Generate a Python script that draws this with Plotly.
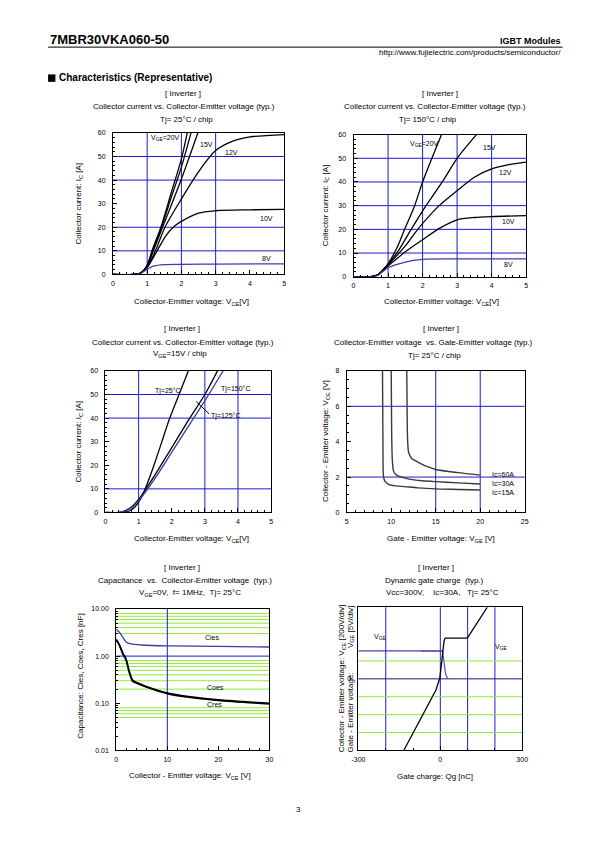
import math
import plotly.graph_objects as go

W, H = 595, 842
FONT = "Liberation Sans, Arial, sans-serif"
BLUE = "#1c1cd2"
NAVY = "#16168c"
GREEN = "#8fe83c"
CBLUE = "#3c3ca8"

# ---------------- data ----------------
p1_v20 = [0, 0.6, 0.8, 1.0, 1.14, 1.4, 1.7, 2.0, 2.17]
p1_i20 = [0, 0, 0.5, 4, 10, 20, 34.5, 49, 60]
p1_v17 = [0, 0.6, 0.8, 1.0, 1.16, 1.42, 1.7, 2.0, 2.28]
p1_i17 = [0, 0, 0.5, 3.8, 10, 20, 32.5, 45.5, 60]
p1_v15 = [0, 0.6, 0.8, 1.0, 1.18, 1.45, 1.75, 2.0, 2.25, 2.48]
p1_i15 = [0, 0, 0.5, 3.5, 10, 20, 31, 40.5, 50.5, 60]
p1_v12 = [0, 0.6, 0.8, 1.0, 1.24, 1.52, 2.0, 2.5, 3.0, 3.5, 4.0, 5.0]
p1_i12 = [0, 0, 0.5, 3, 10, 20, 32, 43.5, 52.5, 56.5, 58.3, 59.3]
p1_v10 = [0, 0.6, 0.8, 1.0, 1.29, 1.55, 1.8, 2.0, 2.5, 3.0, 4.0, 5.0]
p1_i10 = [0, 0, 0.5, 3, 10, 16.5, 20.5, 22.5, 26, 27, 27.4, 27.6]
p1_v8 = [0, 0.6, 0.8, 1.0, 1.2, 1.5, 2.0, 3.0, 5.0]
p1_i8 = [0, 0, 0.4, 2.2, 3.6, 4.2, 4.3, 4.4, 4.5]
p1_vgrid = [1, 2, 3]
p1_hgrid = [10, 20, 40, 50]

p2_v20 = [0, 0.5, 0.7, 1.0, 1.25, 1.48, 1.77, 2.0, 2.27, 2.55]
p2_i20 = [0, 0, 0.8, 5.5, 12, 20, 30, 40, 50, 60]
p2_v15 = [0, 0.5, 0.7, 1.0, 1.3, 1.67, 2.1, 2.57, 3.0, 3.56]
p2_i15 = [0, 0, 0.8, 5.2, 11, 20, 30, 40, 50, 60]
p2_v12 = [0, 0.5, 0.7, 1.0, 1.5, 1.86, 2.48, 3.0, 3.5, 4.0, 4.5, 5.0]
p2_i12 = [0, 0, 0.8, 5, 13, 20, 30, 36.3, 42, 45.5, 47.3, 48.4]
p2_v10 = [0, 0.5, 0.7, 1.0, 1.5, 2.0, 2.5, 3.0, 3.5, 4.0, 5.0]
p2_i10 = [0, 0, 0.8, 4.5, 10.5, 15.6, 20.5, 24, 25, 25.4, 25.8]
p2_v8 = [0, 0.5, 0.7, 1.0, 1.5, 2.0, 3.0, 5.0]
p2_i8 = [0, 0, 0.6, 3.8, 6.2, 7.3, 7.5, 7.5]
p2_vgrid = [1, 2, 3, 4]
p2_hgrid = [10, 20, 30, 40, 50]

p3_v25 = [0, 0.5, 0.7, 0.9, 1.05, 1.2, 1.45, 1.69, 1.94, 2.22, 2.5]
p3_i25 = [0, 0, 0.5, 2.5, 5.5, 10, 19.5, 29.5, 40, 50, 60]
p3_v125 = [0, 0.4, 0.6, 0.8, 1.0, 1.2, 1.5, 2.0, 2.5, 3.0, 3.38]
p3_i125 = [0, 0, 0.8, 2.5, 5.5, 9.5, 16, 27.5, 39, 50, 60]
p3_v150 = [0, 0.4, 0.6, 0.8, 1.0, 1.25, 1.5, 2.0, 2.5, 3.05, 3.55]
p3_i150 = [0, 0, 0.7, 2.2, 5, 9.5, 14.5, 25.5, 36.5, 48.5, 60]
p3_leader_v = [3.13, 2.74]
p3_leader_i = [41.8, 47.0]
p3_vgrid = [1, 3, 4]
p3_hgrid = [10, 40, 50]

p4_g15 = [9.02, 9.07, 9.12, 9.25, 9.7, 10.5, 11.5, 13, 15, 17.5, 20]
p4_c15 = [8, 4, 2.1, 1.8, 1.59, 1.5, 1.46, 1.39, 1.33, 1.3, 1.27]
p4_g30 = [10.0, 10.05, 10.12, 10.25, 10.5, 11, 12, 13.5, 15, 17.5, 20]
p4_c30 = [8, 4.5, 3.0, 2.35, 2.15, 2.02, 1.88, 1.79, 1.74, 1.67, 1.61]
p4_g60 = [11.75, 11.8, 11.85, 11.95, 12.3, 13, 14, 15, 17.5, 20]
p4_c60 = [8, 5, 4, 3.4, 3.05, 2.85, 2.6, 2.43, 2.25, 2.11]
p4_vgrid = [15, 20]
p4_hgrid = [2, 6]

p5_v_cies = [0, 0.6, 1.3, 1.9, 2.9, 5, 10, 20, 30]
p5_cies = [3.7, 3.2, 2.5, 2.0, 1.81, 1.72, 1.65, 1.6, 1.56]
p5_v_co = [0, 0.6, 1.3, 1.9, 2.5, 3.2, 4, 6, 10, 15, 20, 30]
p5_coes = [2.3, 1.75, 1.15, 0.88, 0.5, 0.31, 0.275, 0.225, 0.165, 0.135, 0.118, 0.1]
p5_cres = [2.2, 1.7, 1.1, 0.84, 0.47, 0.295, 0.265, 0.218, 0.16, 0.131, 0.115, 0.097]
p5_green = [0.05, 0.06, 0.07, 0.08, 0.2, 0.3, 0.4, 0.5, 0.6, 0.7, 0.8, 3, 4, 5, 6, 7, 8]
p5_blue_h = [1.0]
p5_vgrid = [10]

p6_q_vce = [-134, -16, -2, 7, 14, 18, 99, 172]
p6_vce = [-4, -0.62, 0.03, 1.23, 2.15, 2.28, 2.28, 4]
p6_q_vge = [-70, 8, 10, 14, 19, 25, 29]
p6_vge = [1.55, 1.55, 1.32, 0.77, 0.31, 0.06, 0.0]
p6_vge_level = 1.56
p6_vgrid = [-200, 0, 100, 200]
p6_green = [1, -1, -2, -3]
p6_navy = [0]

# ---------------- layout helpers ----------------
boxes = {
    1: (108.3, 283.3, 130.0, 272.7),
    2: (354.3, 530.7, 131.7, 275.0),
    3: (100.7, 270.0, 370.0, 512.7),
    4: (347.3, 529.3, 370.0, 512.7),
    5: (111.7, 268.3, 610.0, 752.7),
    6: (359.3, 526.7, 608.3, 752.7),
}


def px(x):
    return x / W


def py(y):
    return 1 - y / H


fig = go.Figure()
shapes = []
annotations = []


def line(i, x, y, color="black", width=1.3, shape="spline", smooth=0.8):
    ax = "" if i == 1 else str(i)
    ln = dict(color=color, width=width, shape=shape)
    if shape == "spline":
        ln["smoothing"] = smooth
    fig.add_trace(go.Scatter(x=x, y=y, mode="lines", line=ln, xaxis="x" + ax,
                             yaxis="y" + ax, showlegend=False, hoverinfo="skip"))


def grid(i, vlist, hlist, color=BLUE, hcolor=None):
    ax = "" if i == 1 else str(i)
    for v in vlist:
        shapes.append(dict(type="line", xref="x" + ax, yref="y" + ax + " domain",
                           x0=v, x1=v, y0=0, y1=1, layer="below",
                           line=dict(color=color, width=1)))
    for h in hlist:
        shapes.append(dict(type="line", xref="x" + ax + " domain", yref="y" + ax,
                           x0=0, x1=1, y0=h, y1=h, layer="below",
                           line=dict(color=hcolor or color, width=1)))


def txt(x, y, s, size=8, xanchor="center", angle=0, color="black"):
    annotations.append(dict(xref="paper", yref="paper", x=px(x), y=py(y), text=s,
                            showarrow=False, xanchor=xanchor, yanchor="middle",
                            textangle=angle, font=dict(size=size, family=FONT, color=color)))


def dtxt(i, x, y, s, size=7, xanchor="center", color="black"):
    ax = "" if i == 1 else str(i)
    annotations.append(dict(xref="x" + ax, yref="y" + ax, x=x, y=y, text=s,
                            showarrow=False, xanchor=xanchor, yanchor="middle",
                            font=dict(size=size, family=FONT, color=color)))


def axes(i, xr, yr, xdt=None, ydt=None, xminor=None, yminor=None, ytype="linear",
         xtv=None, xtt=None, ytv=None, ytt=None, yticks="inside"):
    x0, x1, y0, y1 = boxes[i]
    ax = "" if i == 1 else str(i)
    common = dict(showline=True, linecolor="black", linewidth=1, mirror=True,
                  ticks="inside", ticklen=4, tickcolor="black", tickwidth=1,
                  showgrid=False, zeroline=False, fixedrange=True,
                  tickfont=dict(size=7, family=FONT, color="black"))
    xa = dict(common, domain=[px(x0), px(x1)], range=xr, anchor="y" + ax,
              ticklabelstandoff=2)
    if xdt is not None:
        xa["dtick"] = xdt
        xa["tick0"] = xr[0]
    if xtv is not None:
        xa["tickmode"] = "array"
        xa["tickvals"] = xtv
        xa["ticktext"] = xtt
    if xminor is not None:
        xa["minor"] = dict(ticks="inside", ticklen=2, tickcolor="black", showgrid=False, **xminor)
    ya = dict(common, domain=[py(y1), py(y0)], range=yr, anchor="x" + ax, type=ytype,
              ticklabelstandoff=5, ticks=yticks)
    if ydt is not None:
        ya["dtick"] = ydt
        ya["tick0"] = yr[0]
    if ytv is not None:
        ya["tickmode"] = "array"
        ya["tickvals"] = ytv
        ya["ticktext"] = ytt
    if yminor is not None:
        ya["minor"] = dict(ticks="inside", ticklen=2, tickcolor="black", showgrid=False, **yminor)
    fig.update_layout(**{"xaxis" + ax: xa, "yaxis" + ax: ya})


# ---------------- panel 1 ----------------
axes(1, [0, 5], [0, 60], xdt=1, ydt=10, xminor=dict(dtick=0.2), yminor=dict(dtick=2))
grid(1, p1_vgrid, p1_hgrid)
for xv, yv in [(p1_v20, p1_i20), (p1_v17, p1_i17), (p1_v15, p1_i15), (p1_v12, p1_i12), (p1_v10, p1_i10)]:
    line(1, xv, yv)
line(1, p1_v8, p1_i8, color=CBLUE)
dtxt(1, 1.55, 57.8, "V<sub>GE</sub>=20V")
dtxt(1, 2.72, 55.2, "15V")
dtxt(1, 3.45, 51.6, "12V")
dtxt(1, 4.48, 23.6, "10V")
dtxt(1, 4.48, 6.7, "8V")

# ---------------- panel 2 ----------------
axes(2, [0, 5], [0, 60], xdt=1, ydt=10, xminor=dict(dtick=0.2), yminor=dict(dtick=2))
grid(2, p2_vgrid, p2_hgrid)
for xv, yv in [(p2_v20, p2_i20), (p2_v15, p2_i15), (p2_v12, p2_i12), (p2_v10, p2_i10)]:
    line(2, xv, yv)
line(2, p2_v8, p2_i8, color=CBLUE)
dtxt(2, 2.05, 56, "V<sub>GE</sub>=20V")
dtxt(2, 3.94, 54.4, "15V")
dtxt(2, 4.41, 44, "12V")
dtxt(2, 4.5, 23.3, "10V")
dtxt(2, 4.5, 5.2, "8V")

# ---------------- panel 3 ----------------
axes(3, [0, 5], [0, 60], xdt=1, ydt=10, xminor=dict(dtick=0.2), yminor=dict(dtick=2))
grid(3, p3_vgrid, p3_hgrid)
line(3, p3_v25, p3_i25, smooth=0.6)
line(3, p3_v125, p3_i125)
line(3, p3_v150, p3_i150, color=CBLUE)
line(3, p3_leader_v, p3_leader_i, width=1, shape="linear")
dtxt(3, 1.9, 51.6, "Tj=25°C")
dtxt(3, 3.92, 52.3, "Tj=150°C")
dtxt(3, 3.62, 41, "Tj=125°C")

# ---------------- panel 4 ----------------
axes(4, [5, 25], [0, 8], xdt=5, ydt=2, xminor=dict(dtick=1), yminor=dict(dtick=0.5))
grid(4, p4_vgrid, p4_hgrid)
for xv, yv in [(p4_g15, p4_c15), (p4_g30, p4_c30), (p4_g60, p4_c60)]:
    line(4, xv, yv, color="#3a3a3a", width=1.4, smooth=0.6)
dtxt(4, 21.1, 2.17, "Ic=60A", xanchor="left")
dtxt(4, 21.1, 1.64, "Ic=30A", xanchor="left")
dtxt(4, 21.1, 1.12, "Ic=15A", xanchor="left")

# ---------------- panel 5 ----------------
minor_log = [m * d for d in (0.01, 0.1, 1) for m in range(2, 10)]
axes(5, [0, 30], [-2, 1], xtv=[0, 10, 20, 30], xtt=["0", "10", "20", "30"],
     xminor=dict(dtick=2), ytype="log", ytv=[0.01, 0.1, 1, 10],
     ytt=["0.01", "0.10", "1.00", "10.00"], yminor=dict(tickmode="array", tickvals=minor_log))
for g in p5_green:
    line(5, [0, 30], [g, g], color=GREEN, width=1, shape="linear")
for g in p5_blue_h:
    line(5, [0, 30], [g, g], color=BLUE, width=1, shape="linear")
for v in p5_vgrid:
    line(5, [v, v], [0.01, 10], color=BLUE, width=1, shape="linear")
line(5, p5_v_cies, p5_cies, color=CBLUE, width=1.3)
line(5, p5_v_co, p5_coes, width=1.6)
line(5, p5_v_co, p5_cres, width=1.6)
dtxt(5, 18.9, math.log10(2.44), "Cies")
dtxt(5, 19.5, math.log10(0.22), "Coes")
dtxt(5, 19.3, math.log10(0.094), "Cres")

# ---------------- panel 6 ----------------
axes(6, [-300, 300], [-4, 4], xtv=[-300, 0, 300], xtt=["-300", "0", "300"],
     xminor=dict(dtick=100), ytv=[0], ytt=["0"], yticks="")
grid(6, p6_vgrid, [])
grid(6, [], p6_green, color=GREEN)
grid(6, [], p6_navy, color=NAVY)
shapes.append(dict(type="line", xref="x6", yref="y6", x0=-300, x1=p6_q_vge[2],
                   y0=p6_vge_level, y1=p6_vge_level, layer="below",
                   line=dict(color=NAVY, width=1)))
line(6, p6_q_vge, p6_vge, color="#5a5ab4", width=1.3, shape="linear")
line(6, p6_q_vce, p6_vce, width=1.3, shape="linear")
dtxt(6, -220, 2.31, "V<sub>GE</sub>")
dtxt(6, 222, 1.76, "V<sub>GE</sub>")

# ---------------- page text ----------------
txt(42, 35.5, "<b>7MBR30VKA060-50</b>", size=13, xanchor="left")
txt(568, 37, "<b>IGBT Modules</b>", size=9, xanchor="right")
txt(568, 48.5, "http://www.fujielectric.com/products/semiconductor/", size=8, xanchor="right")
shapes.append(dict(type="line", xref="paper", yref="paper", x0=px(42), x1=px(568),
                   y0=py(43.5), y1=py(43.5), line=dict(color="black", width=1)))
shapes.append(dict(type="rect", xref="paper", yref="paper", x0=px(42), x1=px(49.5),
                   y0=py(78.5), y1=py(71), fillcolor="black", line=dict(width=0)))
txt(51, 74.5, "<b>Characteristics (Representative)</b>", size=10, xanchor="left")

# titles
txt(180, 90, "[ Inverter ]")
txt(181, 103.5, "Collector current vs. Collector-Emitter voltage (typ.)")
txt(184, 116.5, "Tj= 25°C / chip")
txt(443, 90, "[ Inverter ]")
txt(437.5, 103.5, "Collector current vs. Collector-Emitter voltage (typ.)")
txt(430, 116.5, "Tj= 150°C / chip")
txt(179.3, 327.5, "[ Inverter ]")
txt(180, 341, "Collector current vs. Collector-Emitter voltage (typ.)")
txt(176.7, 353, "V<sub>GE</sub>=15V / chip")
txt(443.3, 327.5, "[ Inverter ]")
txt(436, 341, "Collector-Emitter voltage \u00a0vs. Gate-Emitter voltage (typ.)")
txt(436.7, 354, "Tj= 25°C / chip")
txt(179.3, 568, "[ Inverter ]")
txt(182, 581.2, "Capacitance \u00a0vs. \u00a0Collector-Emitter voltage \u00a0(typ.)")
txt(187, 593.5, "V<sub>GE</sub>=0V, \u00a0f= 1MHz, \u00a0Tj= 25°C")
txt(438.3, 568, "[ Inverter ]")
txt(437.5, 581.2, "Dynamic gate charge \u00a0(typ.)")
txt(445.7, 593.5, "Vcc=300V, \u00a0\u00a0\u00a0Ic=30A, \u00a0\u00a0Tj= 25°C")

# axis titles
txt(189, 300.2, "Collector-Emitter voltage: V<sub>CE</sub>[V]")
txt(444, 300.2, "Collector-Emitter voltage: V<sub>CE</sub>[V]")
txt(189, 539.5, "Collector-Emitter voltage: V<sub>CE</sub>[V]")
txt(443.7, 539.5, "Gate - Emitter voltage: V<sub>GE</sub> [V]")
txt(187.5, 778.5, "Collector - Emitter voltage: V<sub>CE</sub> [V]")
txt(437.5, 778.5, "Gate charge: Qg [nC]")
txt(74, 201.7, "Collector current: I<sub>C</sub> [A]", angle=-90)
txt(326, 203, "Collector current: I<sub>C</sub> [A]", angle=-90)
txt(74, 441.7, "Collector current: I<sub>C</sub> [A]", angle=-90)
txt(326, 440.7, "Collector - Emitter voltage: V<sub>CE</sub> [V]", angle=-90)
txt(75, 678, "Capacitance: Cies, Coes, Cres [nF]", angle=-90)
txt(343.3, 680, "Collector - Emitter voltage: V<sub>CE</sub> [200V/div]", angle=-90)
txt(351, 714, "Gate - Emitter voltage:", angle=-90)
txt(351, 628, "V<sub>GE</sub> [5V/div]", angle=-90)

txt(297.5, 812.5, "3", size=8)

fig.update_layout(width=W, height=H, autosize=False,
                  margin=dict(l=0, r=0, t=0, b=0, pad=0),
                  paper_bgcolor="white", plot_bgcolor="white",
                  shapes=shapes, annotations=annotations, showlegend=False)

fig.write_html("out.html", config={"displayModeBar": False, "responsive": False},
               post_script=("document.documentElement.style.margin='0';"
                            "document.documentElement.style.padding='0';"
                            "document.body.style.margin='0';"
                            "document.body.style.padding='0';"
                            "document.body.style.overflow='hidden';"))
